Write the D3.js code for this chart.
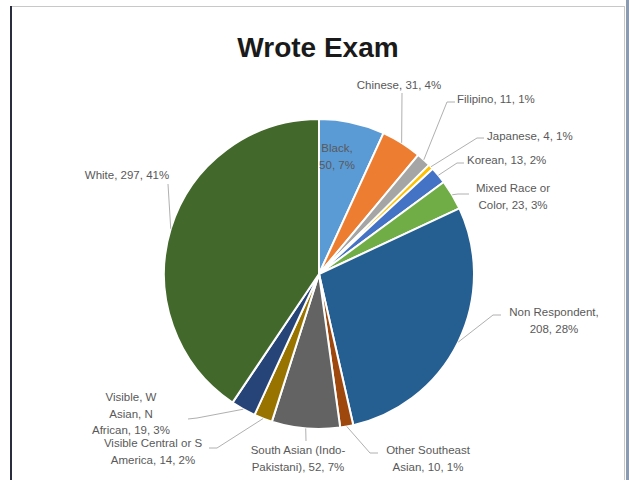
<!DOCTYPE html>
<html>
<head>
<meta charset="utf-8">
<script src="https://cdn.jsdelivr.net/npm/d3@7"></script>
<style>
html,body{margin:0;padding:0;background:#fff;}
svg{display:block;}
</style>
</head>
<body>
<svg id="chart" width="629" height="480"></svg>
<script>
// ---- data ----
const categories = ["Black","Chinese","Filipino","Japanese","Korean","Mixed Race or Color","Non Respondent","Other Southeast Asian","South Asian (Indo-Pakistani)","Visible Central or S America","Visible, W Asian, N African","White"];
const values = [50,31,11,4,13,23,208,10,52,14,19,297];
const pctLabels = [7,4,1,1,2,3,28,1,7,2,3,41];
const colors = ["#5B9BD5","#ED7D31","#A5A5A5","#FFC000","#4472C4","#70AD47","#255E91","#9E480E","#636363","#997300","#264478","#43682B"];
const title = "Wrote Exam";

// ---- layout (label placement, not data) ----
const labelLayout = [
  {x:337,y:148,anchor:"middle",lines:[1,2],leader:null},
  {x:399,y:85,anchor:"middle",lines:[3],leader:[[402,93]]},
  {x:457,y:99,anchor:"start",lines:[3],leader:[[455,102],[447,102]]},
  {x:487,y:136,anchor:"start",lines:[3],leader:[[484,138],[477,138]]},
  {x:467,y:160,anchor:"start",lines:[3],leader:[[464,163],[457,163]]},
  {x:513,y:188,anchor:"middle",lines:[3,3],leader:[[469,194],[458,194]]},
  {x:554,y:312,anchor:"middle",lines:[2,2],leader:[[501,315],[493,315]]},
  {x:428,y:450,anchor:"middle",lines:[2,3],leader:[[378,453],[370,453]]},
  {x:298,y:450,anchor:"middle",lines:[3,3],leader:[[306,441]]},
  {x:153,y:443,anchor:"middle",lines:[4,3],leader:[[209,448],[217,448]]},
  {x:131,y:397,anchor:"middle",lines:[2,2,3],leader:[[188,419],[197,418]]},
  {x:127,y:175,anchor:"middle",lines:[3],leader:[[168,184]]}
];

const svg = d3.select("#chart");
const W = 629, H = 480;
svg.append("rect").attr("width",W).attr("height",H).attr("fill","#fff");

// frame
svg.append("line").attr("x1",10).attr("x2",625).attr("y1",6.5).attr("y2",6.5).attr("stroke","#c8c8c8").attr("stroke-width",1);
svg.append("line").attr("x1",11).attr("x2",11).attr("y1",6).attr("y2",H).attr("stroke","#2a2d3e").attr("stroke-width",2);
svg.append("line").attr("x1",624.5).attr("x2",624.5).attr("y1",6).attr("y2",H).attr("stroke","#c8c8c8").attr("stroke-width",1);
svg.append("rect").attr("x",626).attr("y",0).attr("width",3).attr("height",H).attr("fill","#8d9bb0");

// title
svg.append("text").attr("x",318).attr("y",57).attr("text-anchor","middle")
  .attr("font-family","'Liberation Sans', Arial, sans-serif").attr("font-weight","bold")
  .attr("font-size",28).attr("fill","#1a1a1a").text(title);

const cx = 319, cy = 274, R = 155;
const data = categories.map((c,i)=>({name:c,value:values[i],pct:pctLabels[i],color:colors[i],layout:labelLayout[i]}));
const pie = d3.pie().value(d=>d.value).sort(null);
const arcs = pie(data);
const arc = d3.arc().innerRadius(0).outerRadius(R);

const g = svg.append("g").attr("transform",`translate(${cx},${cy})`);
g.selectAll("path").data(arcs).enter().append("path")
  .attr("d",arc).attr("fill",d=>d.data.color)
  .attr("stroke","#fff").attr("stroke-width",2).attr("stroke-linejoin","round");

// leaders
const edgePoint = a => {
  const m = (a.startAngle + a.endAngle)/2;
  return [cx + R*Math.sin(m), cy - R*Math.cos(m)];
};
const lineGen = d3.line();
arcs.forEach(a=>{
  const L = a.data.layout;
  if(!L.leader) return;
  const pts = [edgePoint(a), ...L.leader.slice().reverse()];
  svg.append("path").attr("d",lineGen(pts)).attr("fill","none")
    .attr("stroke","#b0b0b0").attr("stroke-width",1);
});

// labels
const tokenize = s => s.match(/\S+?-(?=\S)|\S+/g);
const joinTokens = toks => toks.reduce((acc,t,i)=> i===0 ? t : (toks[i-1].endsWith("-") ? acc+t : acc+" "+t), "");
const lineH = 16.5;
arcs.forEach(a=>{
  const d = a.data, L = d.layout;
  const toks = tokenize(`${d.name}, ${d.value}, ${d.pct}%`);
  let k = 0; const rows = [];
  L.lines.forEach(n=>{ rows.push(joinTokens(toks.slice(k,k+n))); k+=n; });
  const t = svg.append("text").attr("text-anchor",L.anchor)
    .attr("font-family","'Liberation Sans', Arial, sans-serif").attr("font-size",11.5)
    .attr("fill","#595959");
  rows.forEach((r,i)=>{
    t.append("tspan").attr("x",L.x).attr("y",L.y + i*lineH).attr("dy","0.35em").text(r);
  });
});
</script>
</body>
</html>
